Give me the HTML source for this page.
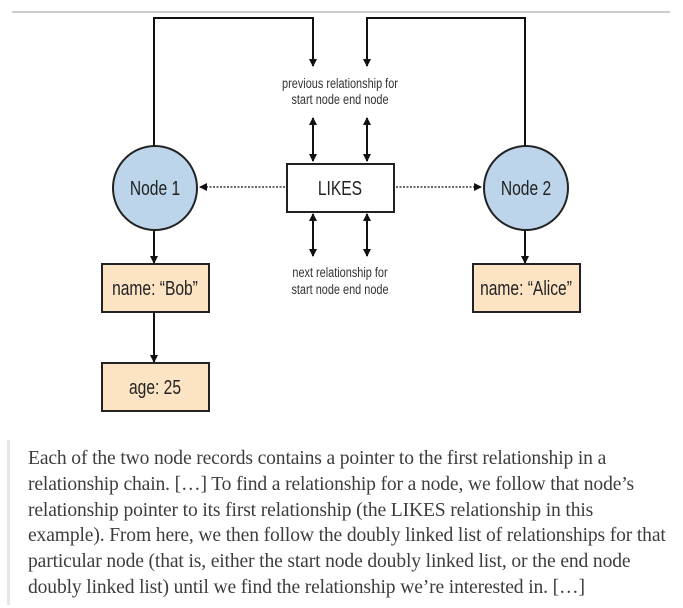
<!DOCTYPE html>
<html><head><style>
body{margin:0;background:#fff;width:683px;height:608px;overflow:hidden;position:relative}
svg{position:absolute;left:0;top:0}
.t{position:absolute;left:28px;top:446px;width:660px;font-family:"Liberation Serif",serif;font-size:19.6px;line-height:25.8px;color:#3d3d3d;white-space:nowrap;letter-spacing:-0.15px}
.bar{position:absolute;left:7px;top:440px;width:3px;height:165px;background:#e6e6e6}
</style></head><body>
<svg width="683" height="440" font-family="Liberation Sans, sans-serif">
<defs><marker id="a" markerWidth="8" markerHeight="8" refX="7" refY="4" orient="auto" markerUnits="userSpaceOnUse"><path d="M0,0 L8,4 L0,8z" fill="#111"/></marker>
<marker id="b" markerWidth="8" markerHeight="8" refX="1" refY="4" orient="auto" markerUnits="userSpaceOnUse"><path d="M8,0 L0,4 L8,8z" fill="#111"/></marker></defs>
<line x1="12" y1="12" x2="670" y2="12" stroke="#ccc" stroke-width="2"/>
<g stroke="#111" stroke-width="2" fill="none">
<path d="M154,146 V18 H313 V66" marker-end="url(#a)"/>
<path d="M525,146 V18 H367 V66" marker-end="url(#a)"/>
<line x1="313" y1="118" x2="313" y2="161" marker-start="url(#b)" marker-end="url(#a)"/>
<line x1="367" y1="118" x2="367" y2="161" marker-start="url(#b)" marker-end="url(#a)"/>
<line x1="313" y1="214" x2="313" y2="256" marker-start="url(#b)" marker-end="url(#a)"/>
<line x1="367" y1="214" x2="367" y2="256" marker-start="url(#b)" marker-end="url(#a)"/>
<line x1="154" y1="231" x2="154" y2="263" marker-end="url(#a)"/>
<line x1="154" y1="313" x2="154" y2="362" marker-end="url(#a)"/>
<line x1="525" y1="231" x2="525" y2="263" marker-end="url(#a)"/>
</g>
<g stroke="#111" stroke-width="1.3" stroke-dasharray="2,1.5" fill="none">
<line x1="285" y1="187" x2="200" y2="187" marker-end="url(#a)"/>
<line x1="396" y1="187" x2="481" y2="187" marker-end="url(#a)"/>
</g>
<circle cx="155" cy="188" r="42" fill="#bcd5ea" stroke="#222" stroke-width="2"/>
<circle cx="526" cy="188" r="42" fill="#bcd5ea" stroke="#222" stroke-width="2"/>
<rect x="287" y="164" width="107" height="48" fill="#fff" stroke="#222" stroke-width="2"/>
<rect x="102" y="264" width="107" height="48" fill="#fbe3c4" stroke="#222" stroke-width="2"/>
<rect x="102" y="363" width="107" height="48" fill="#fbe3c4" stroke="#222" stroke-width="2"/>
<rect x="473" y="264" width="107" height="48" fill="#fbe3c4" stroke="#222" stroke-width="2"/>
<g fill="#222" font-size="20" text-anchor="middle">
<text x="155" y="195" transform="translate(155 0) scale(0.78 1) translate(-155 0)">Node 1</text>
<text x="526" y="195" transform="translate(526 0) scale(0.78 1) translate(-526 0)">Node 2</text>
<text x="340" y="195" transform="translate(340 0) scale(0.78 1) translate(-340 0)">LIKES</text>
<text x="155" y="295" transform="translate(155 0) scale(0.78 1) translate(-155 0)">name: “Bob”</text>
<text x="155" y="394" transform="translate(155 0) scale(0.78 1) translate(-155 0)">age: 25</text>
<text x="526" y="295" transform="translate(526 0) scale(0.78 1) translate(-526 0)">name: “Alice”</text>
</g>
<g fill="#333" font-size="14" text-anchor="middle">
<text x="340" y="88" transform="translate(340 0) scale(0.78 1) translate(-340 0)">previous relationship for</text>
<text x="340" y="104" transform="translate(340 0) scale(0.78 1) translate(-340 0)">start node end node</text>
<text x="340" y="277" transform="translate(340 0) scale(0.78 1) translate(-340 0)">next relationship for</text>
<text x="340" y="294" transform="translate(340 0) scale(0.78 1) translate(-340 0)">start node end node</text>
</g>
</svg>
<div class="bar"></div>
<div class="t">Each of the two node records contains a pointer to the first relationship in a<br>relationship chain. […] To find a relationship for a node, we follow that node’s<br>relationship pointer to its first relationship (the LIKES relationship in this<br>example). From here, we then follow the doubly linked list of relationships for that<br>particular node (that is, either the start node doubly linked list, or the end node<br>doubly linked list) until we find the relationship we’re interested in. […]</div>
</body></html>
